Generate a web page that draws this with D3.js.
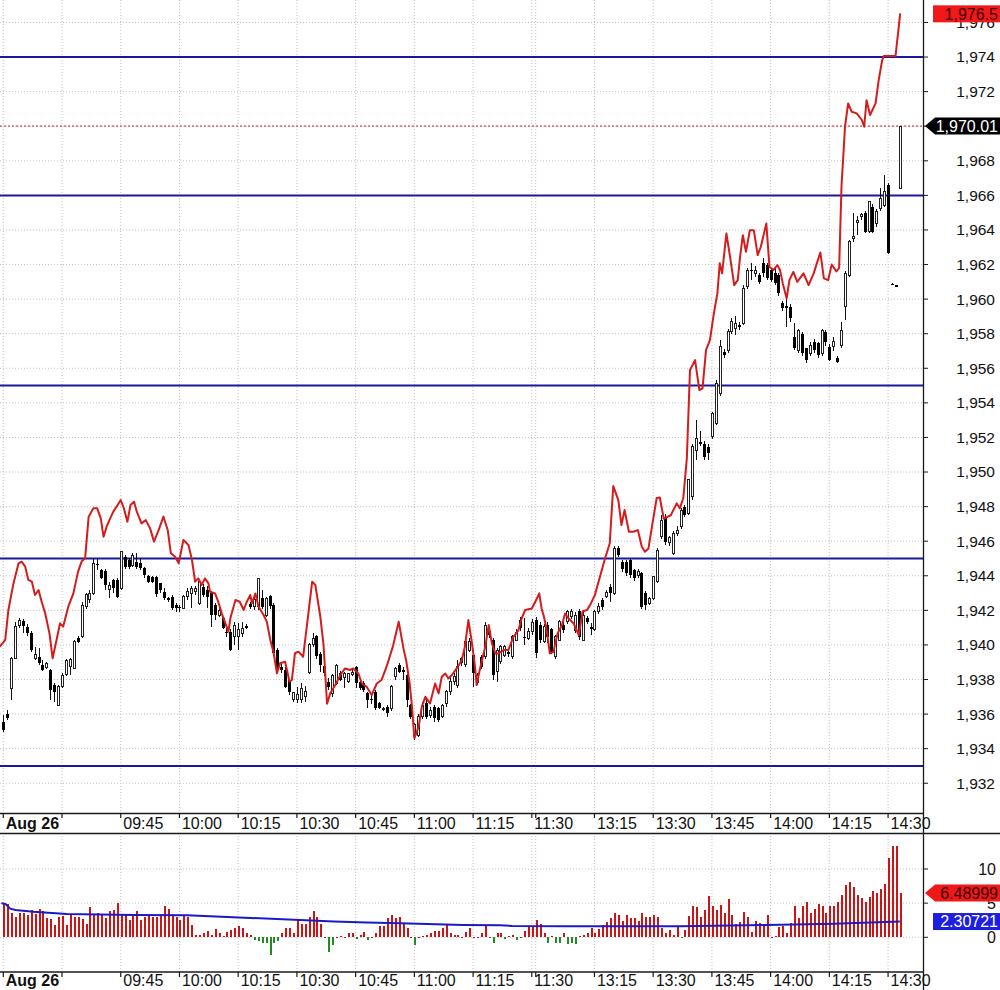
<!DOCTYPE html>
<html>
<head>
<meta charset="utf-8">
<script src="https://cdn.jsdelivr.net/npm/d3@7"></script>
<style>
  body { margin: 0; background: #fff; }
  svg { display: block; }
  text { font-family: "Liberation Sans", Arial, sans-serif; }
</style>
</head>
<body>
<div id="vis"></div>
<script>
// ---- data (1-minute bars, index 0 = 09:30, lunch break collapsed) ----
const START_IDX = -15;

const opens = [
  1935.56,1935.98,1937.49,1939.22,1941.15,1941.4,1941.05,1940.67,1939.22,1939.3,
  1938.85,1938.7,1938.55,1937.68,1936.52,1937.58,1938.3,1938.74,1938.64,1940.38,
  1940.47,1942.21,1942.6,1942.98,1944.7,1944.33,1944.29,1943.18,1943.76,1943.76,
  1943.27,1945.1,1944.91,1944.62,1944.81,1944.72,1944.43,1943.99,1943.95,1943.91,
  1943.56,1943.08,1942.7,1942.79,1942.31,1942.2,1942.12,1942.79,1942.98,1943.08,
  1942.41,1943.37,1943.18,1942.98,1942.31,1941.73,1941.54,1940.77,1940.77,1940.48,
  1940.48,1940.67,1941.1,1942.37,1942.21,1942.21,1942.7,1941.73,1942.83,1942.31,
  1939.71,1938.75,1938.55,1937.97,1936.82,1936.82,1936.82,1937.0,1938.4,1940.0,
  1940.5,1939.5,1938.78,1937.87,1937.2,1937.77,1938.35,1938.1,1937.87,1938.3,
  1938.7,1937.87,1937.8,1937.2,1936.9,1937.29,1936.62,1936.25,1936.43,1936.33,
  1938.16,1938.84,1938.55,1938.26,1936.52,1934.79,1934.79,1935.85,1936.62,1935.9,
  1936.43,1936.33,1935.85,1936.62,1937.29,1937.87,1937.68,1939.22,1938.84,1939.7,
  1939.41,1937.81,1939.32,1939.32,1940.82,1940.28,1938.45,1939.03,1939.41,1939.6,
  1939.32,1940.28,1941.44,1940.47,1940.4,1940.8,1941.44,1941.15,1940.18,1941.15,1940.9,
  1939.32,1940.28,1941.15,1941.34,1941.67,1940.86,1941.98,1940.28,1941.53,1941.01,
  1940.9,1941.92,1942.6,1942.79,1943.37,1942.98,1945.58,1944.81,1944.81,1944.91,
  1944.33,1944.04,1944.14,1942.98,1942.4,1942.69,1943.66,1946.26,1947.32,1945.9,
  1945.29,1946.45,1946.84,1947.99,1947.61,1948.6,1951.27,1951.75,1951.65,1951.46,
  1952.04,1952.81,1954.55,1956.96,1957.05,1958.11,1958.3,1958.5,1958.6,1960.72,
  1961.7,1961.49,1961.39,1962.07,1961.97,1961.68,1961.49,1961.39,1959.75,1959.6,
  1959.56,1957.82,1957.05,1958.0,1957.15,1956.86,1957.53,1957.44,1956.86,1958.11,
  1957.25,1957.25,1956.57,1957.34,1959.56,1961.39,1963.51,1964.42,1964.8,1964.96,
  1963.9,1965.34,1964.38,1965.25,1965.44,1966.6,1960.9,1960.8,1966.41
];
const highs = [
  1935.94,1936.23,1939.3,1941.3,1941.55,1941.5,1941.2,1940.8,1939.9,1939.8,
  1939.1,1939.0,1938.6,1937.8,1937.7,1938.4,1939.2,1939.22,1940.3,1940.5,
  1942.5,1943.0,1943.18,1945.01,1945.01,1944.4,1944.4,1943.66,1943.8,1943.85,
  1945.45,1945.2,1945.0,1945.3,1945.33,1945.01,1944.5,1944.05,1944.0,1944.0,
  1943.6,1943.3,1942.8,1942.9,1942.4,1942.3,1942.9,1943.27,1943.4,1943.4,
  1943.7,1943.5,1943.4,1943.1,1942.4,1942.2,1941.6,1941.06,1940.9,1941.3,
  1941.25,1941.35,1941.2,1942.5,1942.7,1943.9,1943.18,1942.8,1942.9,1942.4,
  1939.8,1938.9,1938.7,1938.0,1937.3,1937.59,1937.78,1937.6,1940.1,1940.7,
  1940.6,1939.6,1938.9,1938.06,1938.3,1938.9,1938.5,1938.45,1938.4,1938.6,
  1938.8,1938.0,1937.9,1937.3,1937.1,1937.4,1936.7,1936.4,1936.5,1937.7,
  1938.74,1938.95,1938.74,1938.3,1936.6,1935.5,1936.0,1936.7,1936.8,1936.4,
  1936.5,1936.4,1936.6,1937.4,1938.16,1938.35,1939.1,1939.3,1940.3,1940.4,
  1939.5,1938.4,1939.4,1941.3,1941.0,1940.4,1939.8,1940.0,1940.0,1939.8,
  1940.6,1940.9,1941.6,1941.53,1941.0,1941.5,1941.6,1941.3,1941.2,1941.34,1941.0,
  1940.6,1941.44,1941.3,1942.02,1942.1,1941.9,1942.1,1941.9,1941.7,1941.24,
  1942.0,1942.4,1942.7,1943.2,1943.5,1945.7,1945.7,1944.9,1944.9,1945.0,
  1944.4,1944.4,1944.2,1943.1,1942.8,1944.0,1945.6,1947.5,1947.6,1946.3,
  1946.6,1946.9,1947.9,1948.1,1949.6,1951.6,1953.0,1952.4,1951.8,1951.6,
  1953.5,1955.3,1957.63,1957.1,1958.3,1958.9,1959.0,1958.7,1960.8,1961.8,
  1962.07,1961.9,1961.5,1962.35,1962.1,1961.8,1961.78,1961.5,1959.9,1960.14,
  1959.7,1958.6,1958.3,1958.1,1957.2,1957.5,1957.7,1957.5,1958.3,1958.2,
  1957.4,1957.8,1956.7,1958.7,1961.6,1963.4,1964.96,1964.8,1965.0,1965.1,
  1965.7,1965.5,1965.2,1966.4,1967.2,1966.7,1960.95,1960.8,1970.01
];
const lows = [
  1934.98,1935.65,1936.8,1939.2,1941.0,1940.7,1940.5,1939.6,1939.1,1938.85,
  1938.5,1938.6,1936.8,1936.7,1936.5,1937.5,1938.2,1938.26,1938.6,1940.1,
  1940.4,1942.1,1942.41,1942.89,1944.33,1943.8,1943.18,1942.7,1943.0,1942.7,
  1943.2,1944.4,1944.4,1944.5,1944.4,1944.35,1943.9,1943.6,1943.6,1942.79,
  1943.0,1942.6,1942.5,1942.0,1941.9,1941.9,1942.1,1942.6,1942.12,1942.9,
  1942.3,1942.8,1942.12,1941.06,1941.44,1941.6,1940.9,1940.48,1939.65,1940.0,
  1939.71,1940.48,1940.9,1942.1,1942.0,1942.0,1942.1,1941.6,1942.1,1939.4,
  1938.6,1938.4,1937.5,1937.1,1936.7,1936.63,1936.63,1936.7,1938.3,1939.9,
  1939.2,1938.45,1938.2,1937.39,1937.0,1937.7,1937.9,1937.5,1937.8,1938.2,
  1937.5,1937.4,1937.3,1936.35,1936.6,1936.23,1936.3,1936.2,1935.85,1936.2,
  1937.97,1938.4,1937.97,1936.43,1935.7,1934.5,1934.7,1935.7,1935.7,1935.8,
  1935.56,1935.55,1935.8,1936.43,1937.1,1937.7,1937.5,1938.8,1938.7,1939.6,
  1937.58,1937.7,1938.6,1939.2,1940.4,1937.97,1937.87,1938.9,1939.3,1939.3,
  1939.2,1940.2,1940.8,1939.99,1940.3,1940.6,1939.22,1940.1,1940.1,1940.1,1939.5,
  1939.2,1940.2,1940.7,1941.2,1941.5,1940.7,1940.28,1940.2,1941.2,1940.57,
  1940.8,1941.8,1942.02,1942.7,1942.5,1942.9,1945.1,1944.2,1944.0,1943.9,
  1943.7,1943.9,1942.1,1942.0,1942.3,1942.6,1943.6,1946.1,1945.78,1945.7,
  1945.2,1946.3,1946.7,1947.4,1947.5,1948.4,1950.7,1951.5,1950.7,1950.7,
  1951.9,1952.7,1954.4,1956.6,1956.9,1958.0,1957.9,1958.2,1958.5,1960.6,
  1961.1,1961.3,1960.9,1961.3,1961.1,1961.0,1960.8,1960.2,1959.3,1958.4,
  1958.7,1957.05,1956.9,1956.7,1956.3,1956.7,1956.9,1956.6,1956.7,1957.3,
  1956.4,1957.0,1956.3,1957.2,1958.8,1961.3,1963.32,1963.7,1964.6,1963.8,
  1963.8,1963.8,1964.2,1965.1,1965.3,1962.6,1960.8,1960.7,1966.41
];
const closes = [
  1935.08,1935.75,1939.22,1941.05,1941.4,1941.1,1940.67,1939.7,1939.47,1938.93,
  1938.55,1938.9,1937.4,1937.3,1937.58,1938.26,1939.1,1939.16,1940.18,1940.18,
  1942.3,1942.89,1942.98,1944.72,1944.6,1943.85,1943.47,1943.41,1943.27,1942.79,
  1945.39,1944.53,1944.53,1945.2,1944.53,1944.43,1944.04,1943.66,1943.66,1942.95,
  1943.18,1942.7,1942.6,1942.12,1942.12,1942.15,1942.79,1943.08,1943.27,1943.27,
  1943.66,1942.89,1942.79,1941.73,1941.73,1942.02,1940.96,1940.67,1939.71,1941.1,
  1940.87,1940.96,1941.0,1942.18,1942.6,1943.85,1942.21,1942.7,1942.25,1939.52,
  1938.75,1938.55,1937.59,1937.3,1937.24,1937.11,1937.49,1937.3,1940.0,1940.4,
  1939.35,1938.84,1938.35,1937.58,1938.26,1938.83,1937.97,1938.35,1938.35,1938.4,
  1937.77,1937.5,1937.4,1936.81,1936.85,1936.33,1936.33,1936.33,1936.04,1937.58,
  1938.64,1938.45,1938.45,1936.81,1935.85,1935.37,1935.85,1936.52,1935.85,1936.2,
  1935.75,1935.65,1936.52,1937.29,1937.87,1938.16,1938.74,1938.93,1940.18,1940.18,
  1938.35,1938.26,1938.7,1941.15,1940.57,1938.26,1939.7,1939.93,1939.9,1939.45,
  1940.47,1940.7,1940.96,1940.38,1940.8,1941.3,1939.51,1940.28,1941.09,1940.47,1939.61,
  1940.47,1941.34,1940.86,1941.92,1941.92,1941.73,1940.47,1941.73,1941.34,1940.9,
  1941.92,1942.21,1942.21,1943.02,1942.98,1945.58,1945.2,1944.37,1944.14,1944.04,
  1943.85,1944.23,1942.21,1942.31,1942.69,1943.95,1945.49,1947.22,1945.97,1946.2,
  1946.45,1946.64,1947.8,1947.51,1949.54,1951.47,1951.95,1951.65,1950.88,1951.08,
  1953.39,1955.12,1957.25,1956.76,1958.11,1958.69,1958.6,1958.4,1960.62,1961.68,
  1961.6,1961.68,1961.0,1961.49,1961.2,1961.1,1960.91,1960.33,1959.46,1959.5,
  1958.88,1957.15,1958.21,1956.86,1956.47,1957.34,1957.05,1956.76,1958.21,1957.53,
  1956.47,1957.53,1956.38,1958.21,1961.49,1963.32,1963.61,1964.57,1964.9,1963.9,
  1965.63,1963.9,1965.05,1965.83,1966.21,1962.65,1960.85,1960.7,1970.01
];

// lower panel histogram, one value per bar
const volume = [
  5.0,4.9,3.6,2.9,3.5,3.5,3.2,4.0,3.4,4.2,
  3.9,2.8,2.7,1.8,3.0,3.1,1.8,3.3,2.9,3.0,
  2.7,2.0,4.4,3.2,3.5,3.4,2.8,3.8,4.0,5.0,
  3.3,3.3,2.6,3.3,3.9,2.5,3.0,3.1,3.0,3.0,
  3.3,4.6,4.1,3.3,2.9,2.5,3.3,3.0,1.8,0.3,
  0.3,0.7,0.9,0.3,1.2,0.7,0.2,0.8,1.1,1.4,
  1.7,1.3,0.7,0.4,-0.4,-0.6,-0.8,-0.8,-2.6,-0.8,
  -0.5,0.7,1.4,1.3,0.7,2.6,2.0,2.0,3.0,3.9,
  3.0,2.0,0.1,-2.1,-1.1,0.05,0.2,0.1,0.6,0.6,
  -0.3,0.3,0.8,-0.4,0.1,0.6,1.7,1.7,2.8,3.3,
  2.8,2.9,2.0,1.3,0.1,-1.2,0.05,0.2,0.3,0.7,
  0.9,0.9,1.3,1.8,0.6,0.4,0.3,0.1,0.8,1.3,
  0.05,0.1,0.7,1.6,0.05,-0.9,0.7,
  0.7,-0.3,0.15,0.3,-0.4,0.05,0.9,1.6,1.7,2.5,
  1.9,0.7,-0.9,0.15,-0.8,-0.9,0.6,-1.0,-0.9,-1.0,
  0.2,0.4,0.7,1.4,0.7,1.2,1.8,2.3,2.8,3.5,
  3.2,2.4,3.2,2.8,2.8,2.4,3.5,2.9,3.0,3.2,
  2.9,1.3,0.7,1.0,0.4,1.5,-0.15,1.0,3.1,4.6,
  4.5,3.0,4.0,6.0,4.6,4.0,4.7,3.5,5.6,3.2,
  2.0,2.2,3.7,3.0,0.8,2.4,2.1,1.6,3.3,0.1,
  0.2,1.5,1.6,0.6,2.1,4.6,2.8,4.6,5.2,3.5,
  4.1,4.9,4.6,3.6,4.6,4.6,5.2,6.2,7.7,8.1,
  7.3,6.2,5.7,5.2,5.9,6.8,6.5,7.0,7.8,11.6,
  13.4,13.4,6.49
];

// red overlay line: vertices (bar position, price)
const redIdx = [
  -15.9,-14.5,-13.7,-12.4,-11.1,-10.3,-9.4,-8.6,-7.7,-6.9,
  -6.0,-5.2,-4.3,-3.2,-2.4,-1.4,-0.5,0.3,1.6,2.9,
  4.1,5.0,5.9,6.8,8.0,9.0,9.9,10.6,11.4,12.3,
  13.1,14.2,15.0,15.8,16.7,17.5,18.4,19.1,20.3,21.4,
  22.5,23.5,24.7,25.9,27.0,27.8,28.9,29.8,31.0,32.3,
  33.2,34.0,34.8,35.7,36.5,37.4,37.8,39.1,39.9,40.8,
  42.5,43.0,44.3,45.4,46.4,47.2,48.1,48.5,49.4,50.2,
  51.5,52.3,53.2,54.0,54.9,55.7,57.0,58.1,58.7,59.5,
  60.4,61.6,63.9,64.7,66.0,66.8,67.7,68.5,69.8,71.1,
  72.3,73.6,74.4,75.7,76.6,77.8,79.1,80.4,81.6,82.9,
  84.5,86.0,87.3,87.9,88.8,89.4,90.0,91.1,91.9,92.8,
  94.0,95.3,96.2,97.0,97.9,98.7,99.6,100.8,102.1,102.9,
  103.8,104.6,105.5,105.9,106.7,108.1,109.0,109.8,110.7,111.5,
  112.8,114.0,115.3,116.6,117.4,118.3,120.0,121.3,121.9,122.5,
  123.1,123.8,124.6,125.5,126.6,127.7,128.5,129.4,130.7,132.0,
  133.0,134.1,135.1,136.1,137.4,138.7,139.9,140.8,142.1,142.9,
  143.7,144.8,145.9,147.1,148.1,148.9,149.8,150.8,151.9,152.7,
  153.7,155.5,157.0,157.8,158.7,159.6,160.4,161.7,162.8,163.6,
  164.5,165.5,166.5,167.4,168.0,168.6,169.2,169.7,170.7,171.7,
  172.6,173.2,173.9,174.7,175.7,176.7,177.7,178.5,179.9,180.7,
  181.7,182.7,183.4,184.1,185.1,185.8,186.8,187.8,189.4,190.7,
  192.0,192.8,193.7,194.6,195.7,196.6,197.8,198.5,199.1,200.0,
  200.8,201.7,203.0,204.3,204.9,205.5,206.4,207.8,208.6,209.5,
  209.9,212.9,214.1
];
const redVal = [
  1939.9,1940.29,1942.02,1943.56,1944.72,1944.81,1944.53,1943.76,1943.66,1942.89,
  1943.18,1942.5,1941.83,1940.67,1939.23,1940.29,1941.25,1941.06,1942.21,1942.98,
  1944.24,1944.82,1945.01,1947.42,1947.9,1947.9,1947.32,1946.26,1946.84,1947.32,
  1947.71,1948.09,1948.38,1947.9,1947.13,1948.09,1948.28,1947.71,1947.03,1947.22,
  1946.74,1945.97,1946.65,1947.42,1946.65,1945.3,1945.1,1944.72,1946.07,1945.78,
  1944.91,1943.66,1943.85,1943.47,1943.85,1943.56,1943.08,1942.98,1942.5,1941.83,
  1940.77,1941.54,1942.6,1942.5,1942.02,1942.5,1942.89,1942.41,1942.98,1942.21,
  1941.73,1941.35,1940.29,1939.61,1938.36,1938.94,1939.03,1937.88,1937.97,1939.52,
  1939.61,1939.32,1943.66,1943.47,1941.6,1940.0,1936.6,1937.2,1937.68,1938.26,
  1938.64,1938.55,1938.64,1938.35,1937.77,1937.58,1937.1,1937.77,1937.97,1938.74,
  1939.9,1941.34,1939.7,1939.12,1937.77,1936.43,1934.6,1935.27,1936.43,1937.0,
  1936.62,1937.77,1937.2,1938.16,1938.35,1938.06,1938.26,1938.64,1939.12,1939.9,
  1941.44,1940.28,1938.74,1937.68,1938.55,1939.9,1941.15,1940.09,1939.51,1939.51,
  1939.7,1939.7,1940.47,1940.86,1941.53,1942.02,1942.11,1942.69,1942.98,1942.11,
  1941.63,1940.86,1939.51,1939.6,1940.67,1941.15,1941.82,1941.53,1941.24,1940.57,
  1941.95,1942.02,1942.4,1942.88,1943.94,1945.0,1945.87,1949.19,1948.38,1946.93,
  1947.8,1946.55,1946.55,1946.64,1945.68,1945.39,1945.58,1947.0,1948.5,1948.53,
  1947.3,1947.5,1948.19,1947.9,1948.5,1950.8,1955.9,1956.47,1954.74,1954.84,
  1957.05,1957.63,1959.17,1960.33,1962.07,1961.49,1962.74,1963.8,1962.36,1960.81,
  1961.1,1962.45,1963.7,1962.74,1963.99,1963.99,1962.55,1963.03,1964.38,1961.87,
  1961.68,1961.97,1961.68,1960.91,1960.04,1961.1,1961.58,1961.0,1961.49,1960.81,
  1961.49,1962.07,1962.7,1961.2,1961.1,1962.0,1961.6,1961.8,1966.5,1969.97,
  1971.32,1970.84,1970.74,1970.36,1969.97,1971.5,1970.65,1971.32,1972.67,1973.83,
  1974.06,1974.06,1976.53
];

// blue average line in the lower panel
const maIdx = [-15.5,-14.5,-13.2,-11.9,-7.3,1.2,9.8,18.2,31.9,43.7,60.8,69.4,77.8,86.4,102.5,111.9,114.9,129,157.9,180,197.1,214];
const maVal = [5.0,4.9,4.2,4.0,3.75,3.4,3.35,3.27,3.22,2.93,2.54,2.3,2.15,2.05,1.8,1.75,1.66,1.6,1.6,1.8,2.0,2.3];

const levelLines = [1974, 1966, 1955, 1945, 1933];
const lastPrice = 1970.01;
const redLast = 1976.5;
const volLast = 6.48999;
const maLast = 2.30721;

// 1,970 sits under the last-price flag, so its label is not shown
const priceTicks = [1932,1934,1936,1938,1940,1942,1944,1946,1948,1950,1952,1954,1956,1958,1960,1962,1964,1966,1968,1970,1972,1974,1976];
const priceTickLabels = ["1,932","1,934","1,936","1,938","1,940","1,942","1,944","1,946","1,948","1,950","1,952","1,954","1,956","1,958","1,960","1,962","1,964","1,966","1,968","","1,972","1,974","1,976"];
const lowTicks = [0, 5, 10];
const timeTickIdx = [-15, 0, 15, 30, 45, 60, 75, 90, 105, 120, 121, 136, 151, 166, 181, 196, 211];
const timeTickLabels = ["Aug 26", "", "09:45", "10:00", "10:15", "10:30", "10:45", "11:00", "11:15", "11:30", "", "13:15", "13:30", "13:45", "14:00", "14:15", "14:30"];

// ---- frame ----
const FRAME_WIDTH = 1000;
const FRAME_HEIGHT = 990;
const PLOT_RIGHT = 923;
const MAIN = {top: 0, bottom: 813};
const LOW = {top: 833, bottom: 972};

const svg = d3.select("#vis")
  .append("svg")
    .attr("width", FRAME_WIDTH)
    .attr("height", FRAME_HEIGHT);

svg.append("rect").attr("width", FRAME_WIDTH).attr("height", FRAME_HEIGHT).attr("fill", "#fff");

// scales
const X_SCALE = d3.scaleLinear().domain([-15.84, 219.92]).range([0, PLOT_RIGHT]);
const Y_MAIN = d3.scaleLinear().domain([1930.28, 1977.3]).range([MAIN.bottom, MAIN.top]);
const Y_LOW = d3.scaleLinear().domain([-5.08, 15.27]).range([LOW.bottom, LOW.top]);

const candles = opens.map((o, k) => ({
  i: START_IDX + k, o: o, h: highs[k], l: lows[k], c: closes[k]
}));
const bars = volume.map((v, k) => ({i: START_IDX + k, v: v}));

// gridlines
const grid = svg.append("g")
  .attr("stroke", "#c2c2c2")
  .attr("stroke-width", 1)
  .attr("stroke-dasharray", "1,2");

grid.selectAll(".hgrid").data(priceTicks).enter().append("line")
  .attr("x1", 0).attr("x2", PLOT_RIGHT)
  .attr("y1", d => Y_MAIN(d)).attr("y2", d => Y_MAIN(d));

grid.selectAll(".hgridlow").data(lowTicks).enter().append("line")
  .attr("x1", 0).attr("x2", PLOT_RIGHT)
  .attr("y1", d => Y_LOW(d)).attr("y2", d => Y_LOW(d));

grid.selectAll(".vgrid").data(timeTickIdx).enter().append("line")
  .attr("x1", d => X_SCALE(d)).attr("x2", d => X_SCALE(d))
  .attr("y1", MAIN.top).attr("y2", MAIN.bottom);

grid.selectAll(".vgridlow").data(timeTickIdx).enter().append("line")
  .attr("x1", d => X_SCALE(d)).attr("x2", d => X_SCALE(d))
  .attr("y1", LOW.top).attr("y2", LOW.bottom);

// horizontal level lines
svg.append("g").selectAll("line").data(levelLines).enter().append("line")
  .attr("x1", 0).attr("x2", PLOT_RIGHT)
  .attr("y1", d => Y_MAIN(d)).attr("y2", d => Y_MAIN(d))
  .attr("stroke", "#1818a0").attr("stroke-width", 2);

// last price dotted line
svg.append("line")
  .attr("x1", 0).attr("x2", PLOT_RIGHT)
  .attr("y1", Y_MAIN(lastPrice)).attr("y2", Y_MAIN(lastPrice))
  .attr("stroke", "#c82020").attr("stroke-width", 1)
  .attr("stroke-dasharray", "2,2");

// candles
const cg = svg.append("g").attr("shape-rendering", "crispEdges");

cg.selectAll(".wick").data(candles).enter().append("line")
  .attr("x1", d => Math.round(X_SCALE(d.i)) + 0.5)
  .attr("x2", d => Math.round(X_SCALE(d.i)) + 0.5)
  .attr("y1", d => Y_MAIN(d.h))
  .attr("y2", d => Y_MAIN(d.l))
  .attr("stroke", "#111").attr("stroke-width", 1);

cg.selectAll(".body").data(candles).enter().append("rect")
  .attr("x", d => Math.round(X_SCALE(d.i)) - (d.c >= d.o ? 0.5 : 1))
  .attr("width", d => d.c >= d.o ? 2 : 3)
  .attr("y", d => Y_MAIN(Math.max(d.o, d.c)))
  .attr("height", d => Math.max(1, Math.abs(Y_MAIN(d.o) - Y_MAIN(d.c))))
  .attr("fill", d => d.c >= d.o ? "#fff" : "#000")
  .attr("stroke", d => d.c >= d.o ? "#222" : "none")
  .attr("stroke-width", 1);

// red overlay line
const priceLine = d3.line()
  .x(d => X_SCALE(d[0]))
  .y(d => Y_MAIN(d[1]));

svg.append("path")
  .datum(d3.zip(redIdx, redVal))
  .attr("d", priceLine)
  .attr("fill", "none")
  .attr("stroke", "#d41c1c")
  .attr("stroke-width", 2)
  .attr("stroke-linejoin", "round");

// lower panel histogram
svg.append("g").attr("shape-rendering", "crispEdges")
  .selectAll("rect").data(bars).enter().append("rect")
    .attr("x", d => Math.round(X_SCALE(d.i)) - 0.5)
    .attr("width", 2)
    .attr("y", d => Y_LOW(Math.max(0, d.v)))
    .attr("height", d => Math.max(1, Math.abs(Y_LOW(d.v) - Y_LOW(0))))
    .attr("fill", d => d.v >= 0 ? "#cc1414" : "#228b22");

const avgLine = d3.line()
  .x(d => X_SCALE(d[0]))
  .y(d => Y_LOW(d[1]));

svg.append("path")
  .datum(d3.zip(maIdx, maVal))
  .attr("d", avgLine)
  .attr("fill", "none")
  .attr("stroke", "#1a1ac8")
  .attr("stroke-width", 2);

// frame lines
const frame = svg.append("g").attr("stroke", "#1a1a1a").attr("stroke-width", 1.3);
frame.append("line").attr("x1", 0).attr("x2", PLOT_RIGHT).attr("y1", MAIN.bottom + 0.5).attr("y2", MAIN.bottom + 0.5);
frame.append("line").attr("x1", 0).attr("x2", FRAME_WIDTH).attr("y1", LOW.top + 0.5).attr("y2", LOW.top + 0.5);
frame.append("line").attr("x1", 0).attr("x2", PLOT_RIGHT).attr("y1", LOW.bottom).attr("y2", LOW.bottom);
frame.append("line").attr("x1", PLOT_RIGHT + 0.5).attr("x2", PLOT_RIGHT + 0.5).attr("y1", 0).attr("y2", FRAME_HEIGHT);

// time axis (two bands: under main panel and under lower panel)
[{y0: MAIN.bottom, base: 828.5}, {y0: LOW.bottom, base: 986}].forEach(band => {
  const g = svg.append("g");
  g.selectAll("line").data(timeTickIdx).enter().append("line")
    .attr("x1", d => X_SCALE(d)).attr("x2", d => X_SCALE(d))
    .attr("y1", band.y0).attr("y2", band.y0 + 5)
    .attr("stroke", "#1a1a1a").attr("stroke-width", 1.2);
  g.selectAll("text").data(timeTickLabels).enter().append("text")
    .attr("x", (d, k) => X_SCALE(timeTickIdx[k]) + 2.5)
    .attr("y", band.base)
    .attr("font-size", "16px")
    .attr("font-weight", (d, k) => k === 0 ? "bold" : "normal")
    .attr("fill", "#111")
    .text(d => d);
});

// price axis
const ya = svg.append("g");
ya.selectAll("line").data(priceTicks).enter().append("line")
  .attr("x1", PLOT_RIGHT).attr("x2", PLOT_RIGHT + 5)
  .attr("y1", d => Y_MAIN(d)).attr("y2", d => Y_MAIN(d))
  .attr("stroke", "#1a1a1a");
ya.selectAll("text").data(priceTicks).enter().append("text")
  .attr("x", 995).attr("y", d => Y_MAIN(d)).attr("dy", "0.35em")
  .attr("text-anchor", "end").attr("font-size", "15.5px").attr("fill", "#111")
  .text((d, k) => priceTickLabels[k]);

const yl = svg.append("g");
yl.selectAll("line").data(lowTicks).enter().append("line")
  .attr("x1", PLOT_RIGHT).attr("x2", PLOT_RIGHT + 5)
  .attr("y1", d => Y_LOW(d)).attr("y2", d => Y_LOW(d))
  .attr("stroke", "#1a1a1a");
yl.selectAll("text").data(lowTicks).enter().append("text")
  .attr("x", 996).attr("y", d => Y_LOW(d)).attr("dy", "0.35em")
  .attr("text-anchor", "end").attr("font-size", "16px").attr("fill", "#111")
  .text(d => d);

// value flags on the right
function flag(yc, label, fill, textFill, arrow) {
  const g = svg.append("g");
  const h = 8.5;
  if (arrow) {
    g.append("polygon")
      .attr("points", [[PLOT_RIGHT + 2, yc], [935, yc - h], [1000, yc - h], [1000, yc + h], [935, yc + h]].join(" "))
      .attr("fill", fill);
  } else {
    g.append("rect").attr("x", 933).attr("y", yc - h).attr("width", 67).attr("height", 2 * h).attr("fill", fill);
  }
  g.append("text")
    .attr("x", 998).attr("y", yc).attr("dy", "0.36em")
    .attr("text-anchor", "end").attr("font-size", "16px").attr("fill", textFill)
    .text(label);
}

flag(Y_MAIN(redLast), d3.format(",.1f")(redLast), "#f01818", "#3a0000", false);
flag(Y_MAIN(lastPrice), d3.format(",.2f")(lastPrice), "#000", "#fff", true);
flag(Y_LOW(volLast), volLast.toString(), "#f01818", "#3a0000", true);
flag(Y_LOW(maLast), maLast.toString(), "#1e1ee0", "#fff", false);
</script>
</body>
</html>
